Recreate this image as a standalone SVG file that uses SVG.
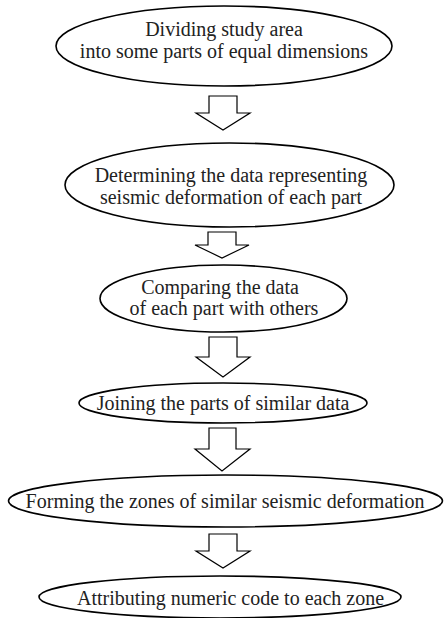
<svg xmlns="http://www.w3.org/2000/svg" width="444" height="618" viewBox="0 0 444 618">
<style>
.n ellipse{fill:#fff;stroke:#000;stroke-width:1.6}
.n text{font-family:"Liberation Serif","Times New Roman",serif;font-size:20px;fill:#222;text-anchor:middle}
.c polygon{fill:#fff;stroke:#000;stroke-width:1.2;stroke-linejoin:miter}
</style>
<rect width="444" height="618" fill="#fff"/>
<g id="connectors" class="c">
<polygon points="209,96 237,96 237,113 250,113 223,130 196,113 209,113"/>
<polygon points="208,232 236,232 236,245 249,245 222,258 195,245 208,245"/>
<polygon points="209,337 237,337 237,357 250,357 223,377 196,357 209,357"/>
<polygon points="209,428 236,428 236,449 250,449 222,471 195,449 209,449"/>
<polygon points="209,534 237,534 237,551 250,551 223,568 196,551 209,551"/>
</g>
<g id="n1" class="n">
<ellipse cx="224" cy="46" rx="168" ry="40"/>
<text x="224" y="36">Dividing study area</text>
<text x="224" y="58">into some parts of equal dimensions</text>
</g>
<g id="n2" class="n">
<ellipse cx="229.5" cy="185" rx="164.5" ry="42"/>
<text x="231" y="182">Determining the data representing</text>
<text x="231" y="204">seismic deformation of each part</text>
</g>
<g id="n3" class="n">
<ellipse cx="223.5" cy="298.5" rx="123.5" ry="33.5"/>
<text x="220" y="294">Comparing the data</text>
<text x="224" y="315">of each part with others</text>
</g>
<g id="n4" class="n">
<ellipse cx="223" cy="403" rx="144" ry="20"/>
<text x="223" y="410">Joining the parts of similar data</text>
</g>
<g id="n5" class="n">
<ellipse cx="225.5" cy="501" rx="217" ry="26"/>
<text x="225" y="508">Forming the zones of similar seismic deformation</text>
</g>
<g id="n6" class="n">
<ellipse cx="220" cy="597" rx="181" ry="21"/>
<text x="230.5" y="605">Attributing numeric code to each zone</text>
</g>
</svg>
